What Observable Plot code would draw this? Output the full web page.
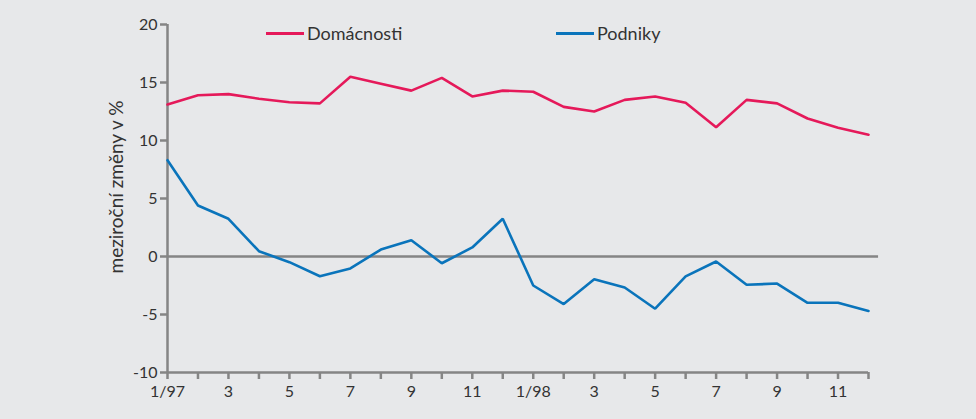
<!DOCTYPE html>
<html>
<head>
<meta charset="utf-8">
<script src="https://cdn.jsdelivr.net/npm/d3@7"></script>
<script src="https://cdn.jsdelivr.net/npm/@observablehq/plot@0.6"></script>
<style>
  html, body { margin: 0; padding: 0; background: #e7e8ea; }
  #wrap { position: relative; width: 976px; height: 419px; font-family: Lato, "Open Sans", sans-serif; color: #333; }
  .leg { position: absolute; top: 21px; display: flex; align-items: center; font-size: 18px; line-height: 24px; color: #333; }
  .leg span.sw { display: inline-block; width: 38px; height: 3px; margin-right: 3px; }
  #ylab { position: absolute; left: 115px; top: 187px; transform: translate(-50%, -50%) rotate(-90deg); white-space: nowrap; font-size: 19px; color: #333; }
</style>
</head>
<body>
<div id="wrap"></div>
<script>
const months = ["1/97","2","3","4","5","6","7","8","9","10","11","12",
                "1/98","2","3","4","5","6","7","8","9","10","11","12"];
const tickLabels = ["1/97","","3","","5","","7","","9","","11","",
                    "1/98","","3","","5","","7","","9","","11",""];
const yTicks = [-10, -5, 0, 5, 10, 15, 20];
const domacnosti = [13.1,13.9,14.0,13.6,13.3,13.2,15.5,14.9,14.3,15.4,13.8,14.3,
                    14.2,12.9,12.5,13.5,13.8,13.25,11.15,13.5,13.2,11.9,11.1,10.5];
const podniky = [8.3,4.4,3.25,0.46,-0.49,-1.7,-1.03,0.6,1.4,-0.58,0.78,3.25,
                 -2.5,-4.1,-1.96,-2.67,-4.5,-1.72,-0.43,-2.44,-2.33,-3.99,-3.99,-4.7];
const series = [
  {name: "Domácnosti", values: domacnosti, color: "#e5195a"},
  {name: "Podniky", values: podniky, color: "#0a74bb"}
];
const yLabel = "meziroční změny v %";
const data = series.flatMap(s => s.values.map((v, i) => ({i, month: months[i], value: v, series: s.name})));

const axisColor = "#858585";
const plot = Plot.plot({
  width: 976,
  height: 419,
  marginLeft: 167,
  marginRight: 108,
  marginTop: 24,
  marginBottom: 47,
  style: {background: "#e7e8ea", fontFamily: "Lato, 'Open Sans', sans-serif", fontSize: "16px", color: "#333", overflow: "visible"},
  x: {domain: [0, 23]},
  y: {domain: [-10, 20]},
  color: {domain: series.map(s => s.name), range: series.map(s => s.color)},
  marks: [
    Plot.ruleY([0], {x1: 0, x2: 23.33, stroke: axisColor, strokeWidth: 2.5}),
    Plot.ruleX([0], {y1: -10, y2: 20, stroke: axisColor, strokeWidth: 2.5}),
    Plot.ruleY([-10], {x1: 0, x2: 23, stroke: axisColor, strokeWidth: 2.5}),
    Plot.axisY({ticks: yTicks, tickFormat: d => String(d), tickSize: 7, tickPadding: 3, stroke: axisColor, strokeWidth: 2.5, label: null, fontSize: 16, fill: "#333"}),
    Plot.axisX({ticks: d3.range(24), tickFormat: i => tickLabels[i], tickSize: 7, tickPadding: 6, stroke: axisColor, strokeWidth: 2.5, label: null, fontSize: 16, fill: "#333"}),
    Plot.line(data, {x: "i", y: "value", z: "series", stroke: "series", strokeWidth: 2.6, strokeLinejoin: "miter"})
  ]
});
const wrap = document.getElementById("wrap");
wrap.appendChild(plot);
const legPos = [266, 556];
series.forEach((s, k) => {
  const d = document.createElement("div");
  d.className = "leg";
  d.style.left = legPos[k] + "px";
  d.innerHTML = `<span class="sw" style="background:${s.color}"></span><span>${s.name}</span>`;
  wrap.appendChild(d);
});
const yl = document.createElement("div");
yl.id = "ylab";
yl.textContent = yLabel;
wrap.appendChild(yl);
</script>
</body>
</html>
